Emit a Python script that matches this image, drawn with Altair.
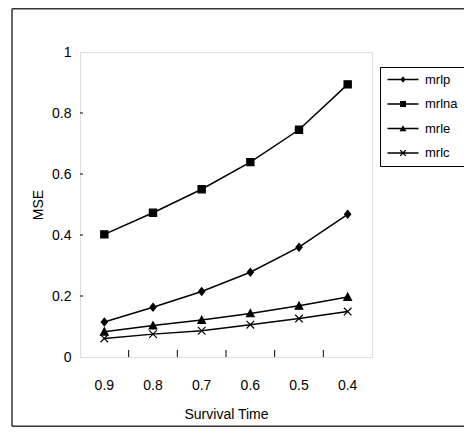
import altair as alt
import pandas as pd

times = ["0.9", "0.8", "0.7", "0.6", "0.5", "0.4"]
series = ["mrlp", "mrlna", "mrle", "mrlc"]
mrlp = [0.115, 0.163, 0.215, 0.278, 0.360, 0.468]
mrlna = [0.402, 0.473, 0.550, 0.639, 0.745, 0.894]
mrle = [0.083, 0.103, 0.121, 0.143, 0.168, 0.197]
mrlc = [0.061, 0.075, 0.086, 0.106, 0.126, 0.149]
y_ticks = [0, 0.2, 0.4, 0.6, 0.8, 1]

values = {"mrlp": mrlp, "mrlna": mrlna, "mrle": mrle, "mrlc": mrlc}
rows = []
for s in series:
    for t, v in zip(times, values[s]):
        rows.append({"time": t, "series": s, "mse": v})
df = pd.DataFrame(rows)
xtick_df = pd.DataFrame({"time": times[1:]})
ytick_df = pd.DataFrame({"mse": y_ticks[1:-1]})

W, H = 292, 305
FONT = "Liberation Sans"

point_shapes = [
    "M0,-0.85L0.68,0L0,0.85L-0.68,0Z",
    "M-0.8,-0.8L0.8,-0.8L0.8,0.8L-0.8,0.8Z",
    "M0,-0.85L0.85,0.75L-0.85,0.75Z",
    "M-0.85,-0.85L0.85,0.85M-0.85,0.85L0.85,-0.85",
]


def xpoly(cx, s, d):
    pts = [(-s, -s + d), (-s + d, -s), (0, -d), (s - d, -s), (s, -s + d), (d, 0),
           (s, s - d), (s - d, s), (0, d), (-s + d, s), (-s, s - d), (-d, 0)]
    return "M" + "L".join(f"{cx + x:.3f},{y:.3f}" for x, y in pts) + "Z"


# legend symbols drawn as filled shapes: line bar + marker (unit = 3 px)
a = 3.5
l0, l1, h = -1.67, 8.67, 0.25
bar = f"M{l0},{-h}L{l1},{-h}L{l1},{h}L{l0},{h}Z"
legend_shapes = [
    bar + f"M{a},-1.1L{a+0.85},0L{a},1.1L{a-0.85},0Z",
    bar + f"M{a-1.0},-1.0L{a+1.0},-1.0L{a+1.0},1.0L{a-1.0},1.0Z",
    bar + f"M{a},-1.1L{a+1.15},0.95L{a-1.15},0.95Z",
    bar + xpoly(a, 1.1, 0.3),
]

x_scale = alt.Scale(type="band", paddingInner=0, paddingOuter=0)
x_axis = alt.Axis(
    title="Survival Time",
    labelAngle=0,
    ticks=False,
    tickSize=0,
    domain=False,
    grid=False,
    labelPadding=21,
    titlePadding=15,
    labelFontSize=14,
    titleFontSize=14,
    titleFontWeight="normal",
)
x_enc = alt.X("time:N", sort=times, scale=x_scale, axis=x_axis)
x_tick_enc = alt.X("time:N", sort=times, scale=x_scale, axis=x_axis, bandPosition=0)

y_scale = alt.Scale(domain=[0, 1], nice=False, zero=True)
y_axis = alt.Axis(
    title="MSE",
    values=y_ticks,
    format="~g",
    ticks=False,
    tickSize=0,
    domain=False,
    grid=False,
    labelPadding=9,
    titlePadding=6,
    labelFontSize=14,
    titleFontSize=14,
    titleFontWeight="normal",
)
y_enc = alt.Y("mse:Q", scale=y_scale, axis=y_axis)

base = alt.Chart(df)

lines = base.mark_line(color="black", strokeWidth=1.5).encode(
    x=x_enc, y=y_enc, detail="series:N"
)

points = base.mark_point(
    filled=True, color="black", stroke="black", strokeWidth=1.2, size=81, opacity=1
).encode(
    x=x_enc,
    y=y_enc,
    shape=alt.Shape(
        "series:N",
        scale=alt.Scale(domain=series, range=point_shapes),
        legend=None,
    ),
)

legend_layer = base.transform_filter("false").mark_point(
    filled=True, color="black", opacity=1
).encode(
    x=x_enc,
    y=y_enc,
    shape=alt.Shape(
        "series:N",
        scale=alt.Scale(domain=series, range=legend_shapes),
        legend=alt.Legend(
            title=None,
            orient="none",
            legendX=300,
            legendY=15,
            strokeColor="black",
            fillColor="white",
            padding=6,
            rowPadding=10.5,
            symbolSize=36,
            symbolFillColor="black",
            symbolStrokeWidth=0,
            symbolOpacity=1,
            labelFontSize=13,
            labelOffset=26,
            labelFont=FONT,
            labelColor="black",
        ),
    ),
)

x_ticks = alt.Chart(xtick_df).mark_rule(color="black", strokeWidth=1).encode(
    x=x_tick_enc, y=alt.value(H - 7), y2=alt.value(H)
)
y_ticks_layer = alt.Chart(ytick_df).mark_rule(color="black", strokeWidth=1).encode(
    y=y_enc, x=alt.value(0), x2=alt.value(3)
)

fr = pd.DataFrame({"k": [0]})
frame_style = dict(color="#333333", strokeWidth=1.5)
FT, FB = -43.25, 374.25
frame_top = alt.Chart(fr).mark_rule(**frame_style).encode(
    x=alt.value(-68), x2=alt.value(400), y=alt.value(FT)
)
frame_left = alt.Chart(fr).mark_rule(**frame_style).encode(
    x=alt.value(-68), y=alt.value(FT), y2=alt.value(FB)
)
frame_bottom = alt.Chart(fr).mark_rule(**frame_style).encode(
    x=alt.value(-68), x2=alt.value(400), y=alt.value(FB)
)

chart = (
    alt.layer(
        frame_top, frame_left, frame_bottom, lines, points, legend_layer,
        x_ticks, y_ticks_layer,
    )
    .resolve_scale(shape="independent")
    .properties(
        width=W,
        height=H,
        autosize=alt.AutoSizeParams(type="none"),
        padding={"left": 72, "top": 44, "right": 92, "bottom": 70},
    )
    .configure_view(stroke="black", strokeWidth=1)
    .configure_axis(
        labelFont=FONT, titleFont=FONT, labelColor="black", titleColor="black",
    )
    .configure(font=FONT)
)

chart.save("out.html", embed_options={"renderer": "svg", "actions": False})
